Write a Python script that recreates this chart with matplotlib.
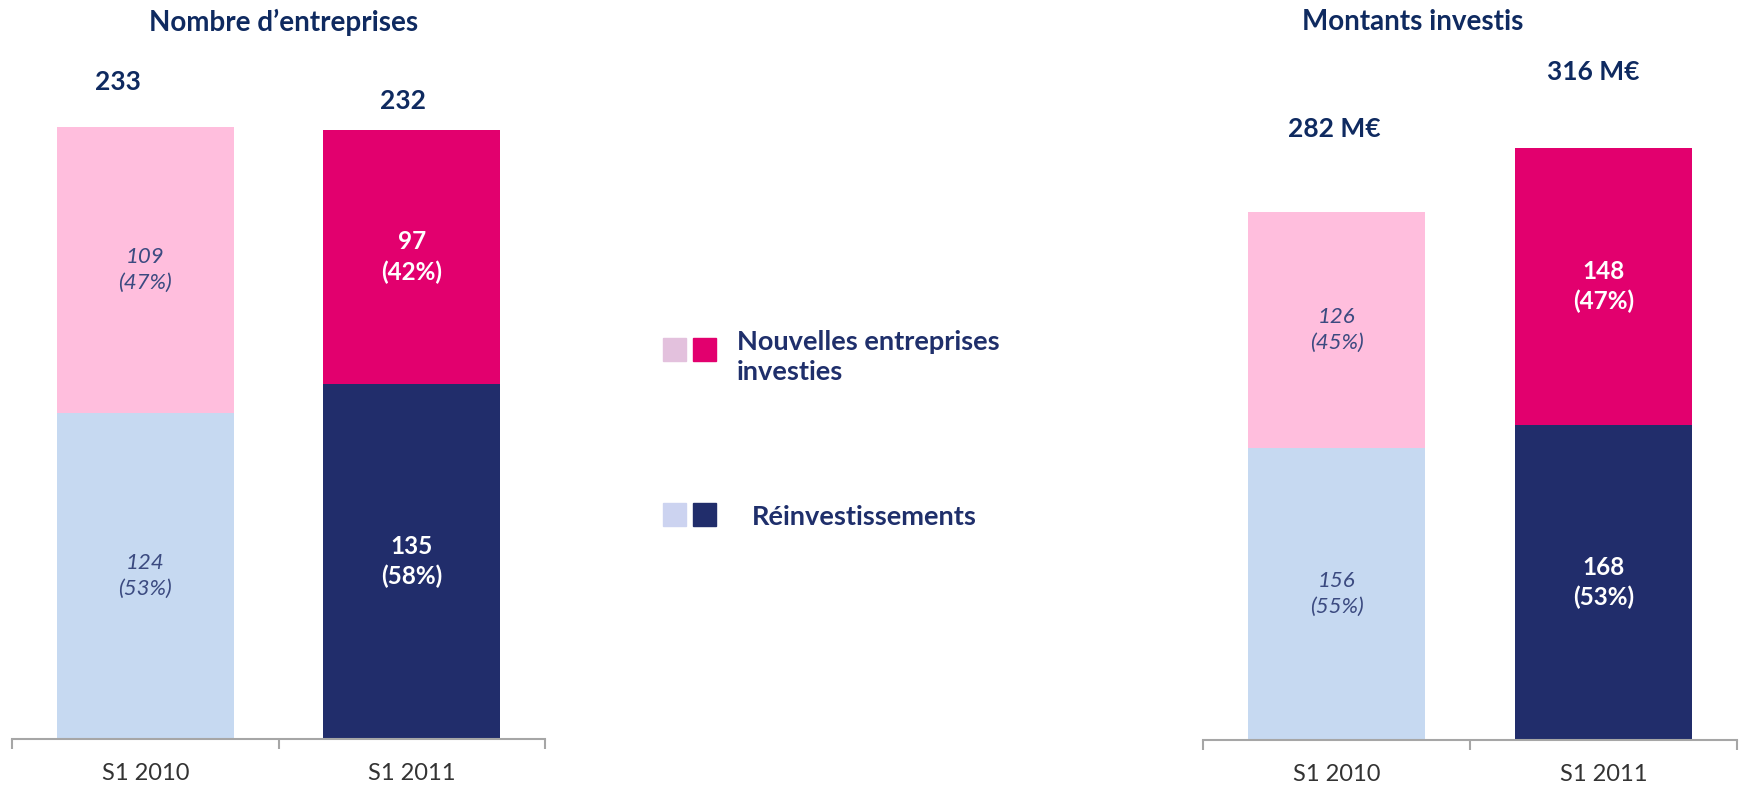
import matplotlib.pyplot as plt
from matplotlib.patches import Rectangle

plt.rcParams['font.family'] = ['Lato', 'DejaVu Sans']

periodes = ["S1 2010", "S1 2011"]

# nombre d'entreprises
nb_reinv = [124, 135]
nb_nouv = [109, 97]
nb_reinv_pct = [53, 58]
nb_nouv_pct = [47, 42]
nb_total = [233, 232]

# montants investis (M€)
mt_reinv = [156, 168]
mt_nouv = [126, 148]
mt_reinv_pct = [55, 53]
mt_nouv_pct = [45, 47]
mt_total = [282, 316]

navy_txt = "#0f2a60"
clair_bleu = "#c6d9f1"
clair_rose = "#ffbedd"
rose = "#e2006e"
bleu = "#212d6b"

W, H = 1742, 786
fig = plt.figure(figsize=(W / 100, H / 100), dpi=100)


def panneau(left_px, right_px, bottom_px, pxunit, reinv, nouv, rpct, npct, total, fmt, offs):
    ax = fig.add_axes([left_px / W, (H - bottom_px) / H, (right_px - left_px) / W, bottom_px / H])
    x = range(len(periodes))
    ax.bar(x, reinv, width=0.664, color=[clair_bleu, bleu])
    ax.bar(x, nouv, bottom=reinv, width=0.664, color=[clair_rose, rose])
    ax.set_xlim(-0.5, 1.5)
    ax.set_ylim(0, bottom_px / pxunit)
    for s in ["top", "left", "right"]:
        ax.spines[s].set_visible(False)
    ax.spines["bottom"].set_color("#a6a6a6")
    ax.spines["bottom"].set_linewidth(1.5)
    ax.set_yticks([])
    ax.set_xticks(list(x))
    ax.set_xticklabels(periodes, fontsize=17, color="#333333")
    ax.tick_params(axis="x", which="major", length=0, pad=17.5)
    ax.set_xticks([-0.5, 0.5, 1.5], minor=True)
    ax.tick_params(axis="x", which="minor", length=7, width=1.5, color="#a6a6a6")
    for i in x:
        if i == 0:
            kw = dict(color="#3b4a80", style="italic", fontsize=16, linespacing=1.35)
        else:
            kw = dict(color="white", fontweight="bold", fontsize=17.5, linespacing=1.35)
        ax.text(i, reinv[i] / 2, f"{reinv[i]}\n({rpct[i]}%)", ha="center", va="center", **kw)
        ax.text(i, reinv[i] + nouv[i] / 2, f"{nouv[i]}\n({npct[i]}%)", ha="center", va="center", **kw)
        ax.annotate(fmt.format(total[i]), (i, total[i]), xytext=offs[i], textcoords="offset pixels",
                    ha="center", va="center", fontsize=19, fontweight="bold", color=navy_txt)
    return ax


panneau(12, 545, 739, 2.627, nb_reinv, nb_nouv, nb_reinv_pct, nb_nouv_pct, nb_total, "{}",
        [(-27, 45), (-9, 29)])
panneau(1203, 1737, 740, 1.873, mt_reinv, mt_nouv, mt_reinv_pct, mt_nouv_pct, mt_total, "{} M€",
        [(-2, 83), (-10, 76)])

fig.text(284 / W, 1 - 22 / H, "Nombre d\u2019entreprises", ha="center", va="center",
         fontsize=20, fontweight="bold", color=navy_txt)
fig.text(1413 / W, 1 - 22 / H, "Montants investis", ha="center", va="center",
         fontsize=20, fontweight="bold", color=navy_txt)

# légende
leg = fig.add_axes([0, 0, 1, 1])
leg.set_xlim(0, W)
leg.set_ylim(H, 0)
leg.axis("off")
leg.patch.set_alpha(0)
leg.add_patch(Rectangle((663, 338), 23, 23, color="#e3c1dd"))
leg.add_patch(Rectangle((693, 338), 23, 23, color=rose))
leg.add_patch(Rectangle((663, 503), 23, 23, color="#ccd3f0"))
leg.add_patch(Rectangle((693, 503), 23, 23, color=bleu))
leg.text(737, 357, "Nouvelles entreprises\ninvesties", ha="left", va="center", fontsize=19.5,
         fontweight="bold", color="#1f2f6b", linespacing=1.3)
leg.text(752, 517, "Réinvestissements", ha="left", va="center", fontsize=19.5,
         fontweight="bold", color="#1f2f6b")

fig.savefig("out.png", dpi=100)
